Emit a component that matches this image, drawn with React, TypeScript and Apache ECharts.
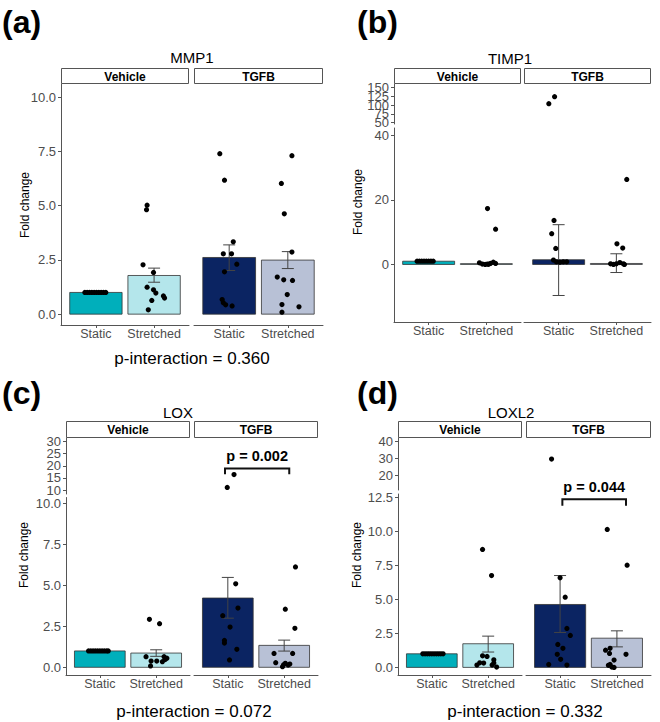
import React, { useEffect, useRef } from "react";
import * as echarts from "echarts";

// ---------- data ----------
const panelLetters = ["(a)", "(b)", "(c)", "(d)"];
const geneNames = ["MMP1", "TIMP1", "LOX", "LOXL2"];
const facetNames = ["Vehicle", "TGFB"];
const conditionNames = ["Static", "Stretched"];
const pInteraction = ["p-interaction = 0.360", "", "p-interaction = 0.072", "p-interaction = 0.332"];

// group order: Vehicle-Static, Vehicle-Stretched, TGFB-Static, TGFB-Stretched
// MMP1
const mmp1Bars = [1.0, 1.78, 2.61, 2.49];
const mmp1ErrLow = [1.0, 1.47, 2.01, 2.1];
const mmp1ErrHigh = [1.0, 2.12, 3.19, 2.88];
const mmp1VehicleStatic = [[-0.19, 1], [-0.15, 1], [-0.11, 1], [-0.07, 1], [-0.03, 1], [0.01, 1], [0.05, 1], [0.09, 1], [0.13, 1], [0.17, 1]];
const mmp1VehicleStretched = [[-0.12, 5.02], [-0.13, 4.81], [-0.19, 2.27], [-0.01, 1.92], [-0.12, 1.24], [-0.01, 1.12], [0.03, 0.97], [0.16, 0.84], [0.18, 0.74], [-0.04, 0.63], [-0.1, 0.2]];
const mmp1TgfbStatic = [[-0.16, 7.39], [-0.08, 6.17], [0.07, 3.33], [-0.1, 2.78], [0.04, 2.78], [0.13, 2.3], [-0.08, 1.95], [-0.12, 0.67], [-0.1, 0.52], [-0.06, 0.43], [0.05, 0.38]];
const mmp1TgfbStretched = [[0.07, 7.3], [-0.11, 6.02], [-0.06, 4.62], [0.07, 2.86], [-0.18, 1.71], [-0.07, 1.58], [0.08, 1.55], [-0.01, 0.9], [-0.1, 0.44], [0.19, 0.34], [-0.1, 0.09]];
const mmp1LowerRange = [-0.5, 10.6];
const mmp1LowerTicks = ["0.0", "2.5", "5.0", "7.5", "10.0"];

// TIMP1
const timp1Bars = [1.0, 0.25, 1.45, 0.3];
const timp1ErrLow = [1.0, 0.25, -9.6, -2.5];
const timp1ErrHigh = [1.0, 0.25, 12.3, 3.3];
const timp1VehicleStatic = [[-0.2, 1], [-0.16, 1], [-0.12, 1], [-0.08, 1], [-0.04, 1], [0.0, 1], [0.04, 1], [0.08, 1]];
const timp1VehicleStretched = [[0.02, 17.3], [0.16, 10.9], [-0.12, 0.5], [-0.07, 0.1], [-0.02, 0.0], [0.02, 0.1], [0.07, 0.3], [0.12, 0.7], [0.16, 0.3], [0.04, 0.05]];
const timp1TgfbStatic = [[-0.17, 104], [-0.07, 124], [-0.08, 13.6], [-0.12, 9.5], [-0.05, 4.95], [-0.09, 1.34], [-0.04, 0.8], [0.02, 0.7], [0.08, 0.8], [0.14, 0.8]];
const timp1TgfbStretched = [[0.18, 26.3], [0.01, 6.4], [0.11, 5.05], [-0.1, 0.2], [-0.05, 0.0], [0.0, 0.2], [0.06, 0.6], [0.12, 0.2], [0.14, 0.0]];
const timp1LowerRange = [-17.8, 42.2];
const timp1LowerTicks = ["0", "20", "40"];
const timp1UpperRange = [46, 160];
const timp1UpperTicks = ["50", "75", "100", "125", "150"];

// LOX
const loxBars = [1.0, 0.87, 4.23, 1.34];
const loxErrLow = [1.0, 0.67, 3.0, 0.99];
const loxErrHigh = [1.0, 1.07, 5.49, 1.66];
const loxVehicleStatic = [[-0.2, 1], [-0.16, 1], [-0.12, 1], [-0.08, 1], [-0.04, 1], [0.0, 1], [0.04, 1], [0.08, 1], [0.12, 1], [0.15, 1]];
const loxVehicleStretched = [[-0.12, 2.93], [0.06, 2.66], [-0.18, 0.65], [0.01, 0.38], [-0.1, 0.08], [-0.09, 0.38], [0.14, 0.65], [0.16, 0.47], [0.19, 0.56], [0.11, 0.34]];
const loxTgfbStatic = [[-0.01, 11.1], [0.11, 16.4], [0.14, 5.1], [0.18, 3.62], [-0.09, 3.15], [0.04, 2.46], [-0.06, 1.64], [-0.06, 1.48], [0.16, 1.1], [0.03, 0.45]];
const loxTgfbStretched = [[0.2, 6.13], [0.02, 3.55], [0.19, 2.38], [-0.18, 0.85], [0.15, 0.85], [-0.15, 0.28], [-0.03, 0.04], [0.02, 0.24], [0.07, 0.14], [0.1, 0.2], [-0.01, 0.15]];
const loxLowerRange = [-0.47, 10.37];
const loxLowerTicks = ["0.0", "2.5", "5.0", "7.5", "10.0"];
const loxUpperRange = [8.4, 31.4];
const loxUpperTicks = ["10", "15", "20", "25", "30"];
const loxBracket = [0.95, 2.09, 18.9, 16.5];
const loxBracketLabel = "p = 0.002";

// LOXL2
const loxl2Bars = [1.0, 1.74, 4.63, 2.15];
const loxl2ErrLow = [1.0, 1.13, 2.57, 1.51];
const loxl2ErrHigh = [1.0, 2.3, 6.76, 2.69];
const loxl2VehicleStatic = [[-0.16, 1], [-0.12, 1], [-0.08, 1], [-0.04, 1], [0.0, 1], [0.04, 1], [0.08, 1], [0.12, 1], [0.16, 1], [0.2, 1]];
const loxl2VehicleStretched = [[-0.1, 8.68], [0.06, 6.76], [-0.1, 0.85], [-0.02, 0.81], [-0.2, 0.17], [-0.15, 0.34], [-0.08, 0.32], [0.1, 0.56], [0.1, 0.32], [0.15, 0.02], [0.07, 0.17]];
const loxl2TgfbStatic = [[-0.15, 29.5], [0.0, 6.59], [0.09, 5.17], [0.12, 2.87], [0.18, 2.35], [-0.04, 1.69], [0.05, 1.4], [-0.05, 0.96], [0.01, 0.59], [-0.2, 0.22], [0.12, 0.17]];
const loxl2TgfbStretched = [[-0.17, 10.15], [0.18, 7.52], [-0.12, 1.4], [-0.2, 1.27], [-0.13, 1.03], [0.16, 0.96], [-0.05, 0.54], [-0.12, 0.22], [-0.09, 0.02], [-0.05, 0.0], [-0.15, 0.15]];
const loxl2LowerRange = [-0.56, 12.76];
const loxl2LowerTicks = ["0.0", "2.5", "5.0", "7.5", "10.0", "12.5"];
const loxl2UpperRange = [11.2, 41.9];
const loxl2UpperTicks = ["20", "30", "40"];
const loxl2Bracket = [1.04, 2.16, 12.37, 11.9];
const loxl2BracketLabel = "p = 0.044";

// ---------- styles / layout ----------
const FONT = '"Liberation Sans", Arial, Helvetica, sans-serif';
const groupColors = ["#00AFBB", "#B4E6EB", "#0B2462", "#B8C1D6"];
const axisColor = "#555555";
const labelColor = "#4D4D4D";

type Seg = { range: number[]; ticks: string[] };
type Gene = {
  bars: number[]; low: number[]; high: number[]; points: number[][][];
  lower: Seg; upper?: Seg; bracket?: number[]; bracketLabel?: string;
};

const genes: Gene[] = [
  { bars: mmp1Bars, low: mmp1ErrLow, high: mmp1ErrHigh,
    points: [mmp1VehicleStatic, mmp1VehicleStretched, mmp1TgfbStatic, mmp1TgfbStretched],
    lower: { range: mmp1LowerRange, ticks: mmp1LowerTicks } },
  { bars: timp1Bars, low: timp1ErrLow, high: timp1ErrHigh,
    points: [timp1VehicleStatic, timp1VehicleStretched, timp1TgfbStatic, timp1TgfbStretched],
    lower: { range: timp1LowerRange, ticks: timp1LowerTicks },
    upper: { range: timp1UpperRange, ticks: timp1UpperTicks } },
  { bars: loxBars, low: loxErrLow, high: loxErrHigh,
    points: [loxVehicleStatic, loxVehicleStretched, loxTgfbStatic, loxTgfbStretched],
    lower: { range: loxLowerRange, ticks: loxLowerTicks },
    upper: { range: loxUpperRange, ticks: loxUpperTicks },
    bracket: loxBracket, bracketLabel: loxBracketLabel },
  { bars: loxl2Bars, low: loxl2ErrLow, high: loxl2ErrHigh,
    points: [loxl2VehicleStatic, loxl2VehicleStretched, loxl2TgfbStatic, loxl2TgfbStretched],
    lower: { range: loxl2LowerRange, ticks: loxl2LowerTicks },
    upper: { range: loxl2UpperRange, ticks: loxl2UpperTicks },
    bracket: loxl2Bracket, bracketLabel: loxl2BracketLabel },
];

const layouts = [
  { lefts: [61, 194], widths: [128, 129], stripTop: 68, stripH: 16, lower: [84, 241], upper: null as null | number[],
    title: [192, 57], letter: [2, 22], yName: [25, 205], pInt: [192, 358], bracketUpper: false },
  { lefts: [394, 524], widths: [127, 127], stripTop: 68, stripH: 16, lower: [128, 194], upper: [84, 40],
    title: [510, 58], letter: [357, 22], yName: [358, 202], pInt: [0, 0], bracketUpper: false },
  { lefts: [66, 194], widths: [124, 124], stripTop: 421, stripH: 17, lower: [497.5, 177.5], upper: [438, 56],
    title: [178, 412], letter: [2, 393], yName: [24, 555], pInt: [194, 711], bracketUpper: true },
  { lefts: [398, 526], widths: [124, 125], stripTop: 421, stripH: 17, lower: [494, 181], upper: [438, 52],
    title: [511, 412], letter: [357, 393], yName: [357, 555], pInt: [525, 711], bracketUpper: false },
];

function buildOption() {
  const grid: any[] = [];
  const xAxis: any[] = [];
  const yAxis: any[] = [];
  const series: any[] = [];
  const graphic: any[] = [];

  genes.forEach((gene, p) => {
    const L = layouts[p];
    const segs: { kind: string; top: number; height: number; seg: Seg }[] = [
      { kind: "lower", top: L.lower[0], height: L.lower[1], seg: gene.lower },
    ];
    if (gene.upper && L.upper) segs.push({ kind: "upper", top: L.upper[0], height: L.upper[1], seg: gene.upper });
    const lowerMax = gene.lower.range[1];

    facetNames.forEach((fname, f) => {
      graphic.push({
        type: "rect",
        shape: { x: L.lefts[f] + 0.5, y: L.stripTop + 0.5, width: L.widths[f] - 1, height: L.stripH - 1 },
        style: { fill: "#ffffff", stroke: axisColor, lineWidth: 1 },
      });
      graphic.push({
        type: "text", x: L.lefts[f] + L.widths[f] / 2, y: L.stripTop + L.stripH / 2 + 0.5,
        style: { text: fname, align: "center", verticalAlign: "middle", fill: "#000",
          font: `bold 12px ${FONT}` },
      });

      segs.forEach((s) => {
        const gi = grid.length;
        const isLower = s.kind === "lower";
        grid.push({ left: L.lefts[f], top: s.top, width: L.widths[f], height: s.height });
        xAxis.push({
          type: "value", gridIndex: gi, min: 0.4, max: 2.6, show: isLower,
          axisLine: { show: true, onZero: false, lineStyle: { color: axisColor, width: 1 } },
          axisTick: { show: true, length: 3, customValues: [1, 2], lineStyle: { color: axisColor } },
          axisLabel: {
            customValues: [1, 2], margin: 2, color: labelColor, fontSize: 12.5, fontFamily: FONT,
            showMinLabel: true, showMaxLabel: true, hideOverlap: false,
            formatter: (v: number) => conditionNames[Math.round(v) - 1] || "",
          },
          splitLine: { show: false },
        });
        const ticks = s.seg.ticks;
        yAxis.push({
          type: "value", gridIndex: gi, min: s.seg.range[0], max: s.seg.range[1], show: f === 0,
          axisLine: { show: true, onZero: false, lineStyle: { color: axisColor, width: 1 } },
          axisTick: { show: true, length: 3, customValues: ticks.map(Number), lineStyle: { color: axisColor } },
          axisLabel: { show: false },
          splitLine: { show: false },
        });

        // y tick labels, positioned through the axis scale
        if (f === 0) {
          series.push({
            type: "custom", xAxisIndex: gi, yAxisIndex: gi, clip: false, z: 6, silent: true,
            data: ticks.map((t, i) => [0.4, Number(t), i]),
            renderItem: (params: any, api: any) => {
              const pos = api.coord([api.value(0), api.value(1)]);
              return {
                type: "text", x: pos[0] - 5, y: pos[1],
                style: { text: ticks[api.value(2)], align: "right", verticalAlign: "middle",
                  fill: labelColor, font: `13px ${FONT}` },
              };
            },
          });
        }

        if (isLower) {
          const barData = [0, 1].map((c) => [c + 1, gene.bars[f * 2 + c], f * 2 + c]);
          series.push({
            type: "custom", xAxisIndex: gi, yAxisIndex: gi, clip: true, z: 2,
            data: barData,
            renderItem: (params: any, api: any) => {
              const x = api.value(0), y = api.value(1), ci = api.value(2);
              const a = api.coord([x - 0.45, y]);
              const b = api.coord([x + 0.45, 0]);
              return {
                type: "rect",
                shape: { x: a[0], y: a[1], width: b[0] - a[0], height: b[1] - a[1] },
                style: { fill: groupColors[ci], stroke: "#333333", lineWidth: 0.8 },
              };
            },
          });
          const errData = [0, 1]
            .map((c) => [c + 1, gene.low[f * 2 + c], gene.high[f * 2 + c]])
            .filter((d) => d[2] - d[1] > 1e-9);
          series.push({
            type: "custom", xAxisIndex: gi, yAxisIndex: gi, clip: false, z: 3,
            data: errData,
            renderItem: (params: any, api: any) => {
              const x = api.value(0);
              const lo = api.coord([x, api.value(1)]);
              const hi = api.coord([x, api.value(2)]);
              const st = { stroke: "#444444", lineWidth: 1 };
              return {
                type: "group",
                children: [
                  { type: "line", shape: { x1: lo[0], y1: lo[1], x2: hi[0], y2: hi[1] }, style: st },
                  { type: "line", shape: { x1: hi[0] - 6, y1: hi[1], x2: hi[0] + 6, y2: hi[1] }, style: st },
                  { type: "line", shape: { x1: lo[0] - 6, y1: lo[1], x2: lo[0] + 6, y2: lo[1] }, style: st },
                ],
              };
            },
          });
        }

        const pts: number[][] = [];
        [0, 1].forEach((c) => {
          gene.points[f * 2 + c].forEach((pt) => {
            const inUpper = pt[1] > lowerMax;
            if ((isLower && !inUpper) || (!isLower && inUpper)) pts.push([c + 1 + pt[0], pt[1]]);
          });
        });
        series.push({
          type: "scatter", xAxisIndex: gi, yAxisIndex: gi, z: 4,
          data: pts, symbol: "circle", symbolSize: 5.2,
          itemStyle: { color: "#000000", opacity: 1 }, silent: true,
        });

        if (gene.bracket && f === 1 && ((L.bracketUpper && !isLower) || (!L.bracketUpper && isLower))) {
          const label = gene.bracketLabel || "";
          series.push({
            type: "custom", xAxisIndex: gi, yAxisIndex: gi, clip: false, z: 5,
            data: [gene.bracket],
            encode: { x: [0, 1], y: [2, 3] },
            renderItem: (params: any, api: any) => {
              const x1 = api.value(0), x2 = api.value(1), yt = api.value(2), yb = api.value(3);
              const a = api.coord([x1, yb]);
              const b = api.coord([x1, yt]);
              const c = api.coord([x2, yt]);
              const d = api.coord([x2, yb]);
              return {
                type: "group",
                children: [
                  { type: "polyline", shape: { points: [a, b, c, d] },
                    style: { stroke: "#111111", lineWidth: 2, fill: "none" } },
                  { type: "text", x: (b[0] + c[0]) / 2, y: b[1] - 12,
                    style: { text: label, align: "center", verticalAlign: "middle", fill: "#000",
                      font: `bold 14.5px ${FONT}` } },
                ],
              };
            },
          });
        }
      });
    });

    graphic.push({
      type: "text", x: L.letter[0], y: L.letter[1],
      style: { text: panelLetters[p], align: "left", verticalAlign: "middle", fill: "#000",
        font: `bold 32px ${FONT}` },
    });
    graphic.push({
      type: "text", x: L.title[0], y: L.title[1],
      style: { text: geneNames[p], align: "center", verticalAlign: "middle", fill: "#000",
        font: `15px ${FONT}` },
    });
    graphic.push({
      type: "text", x: L.yName[0], y: L.yName[1], rotation: Math.PI / 2,
      style: { text: "Fold change", align: "center", verticalAlign: "middle", fill: "#000",
        font: `12px ${FONT}` },
    });
    if (pInteraction[p]) {
      graphic.push({
        type: "text", x: L.pInt[0], y: L.pInt[1],
        style: { text: pInteraction[p], align: "center", verticalAlign: "middle", fill: "#000",
          font: `17px ${FONT}` },
      });
    }
  });

  return {
    animation: false,
    backgroundColor: "#ffffff",
    grid, xAxis, yAxis, series, graphic,
  };
}

export default function App() {
  const ref = useRef<HTMLDivElement>(null);
  useEffect(() => {
    if (!ref.current) return;
    const chart = echarts.init(ref.current, undefined, { renderer: "svg" });
    chart.setOption(buildOption() as any);
    return () => chart.dispose();
  }, []);
  return (
    <div
      ref={ref}
      style={{ position: "absolute", left: 0, top: 0, width: 660, height: 722, background: "#fff" }}
    />
  );
}
